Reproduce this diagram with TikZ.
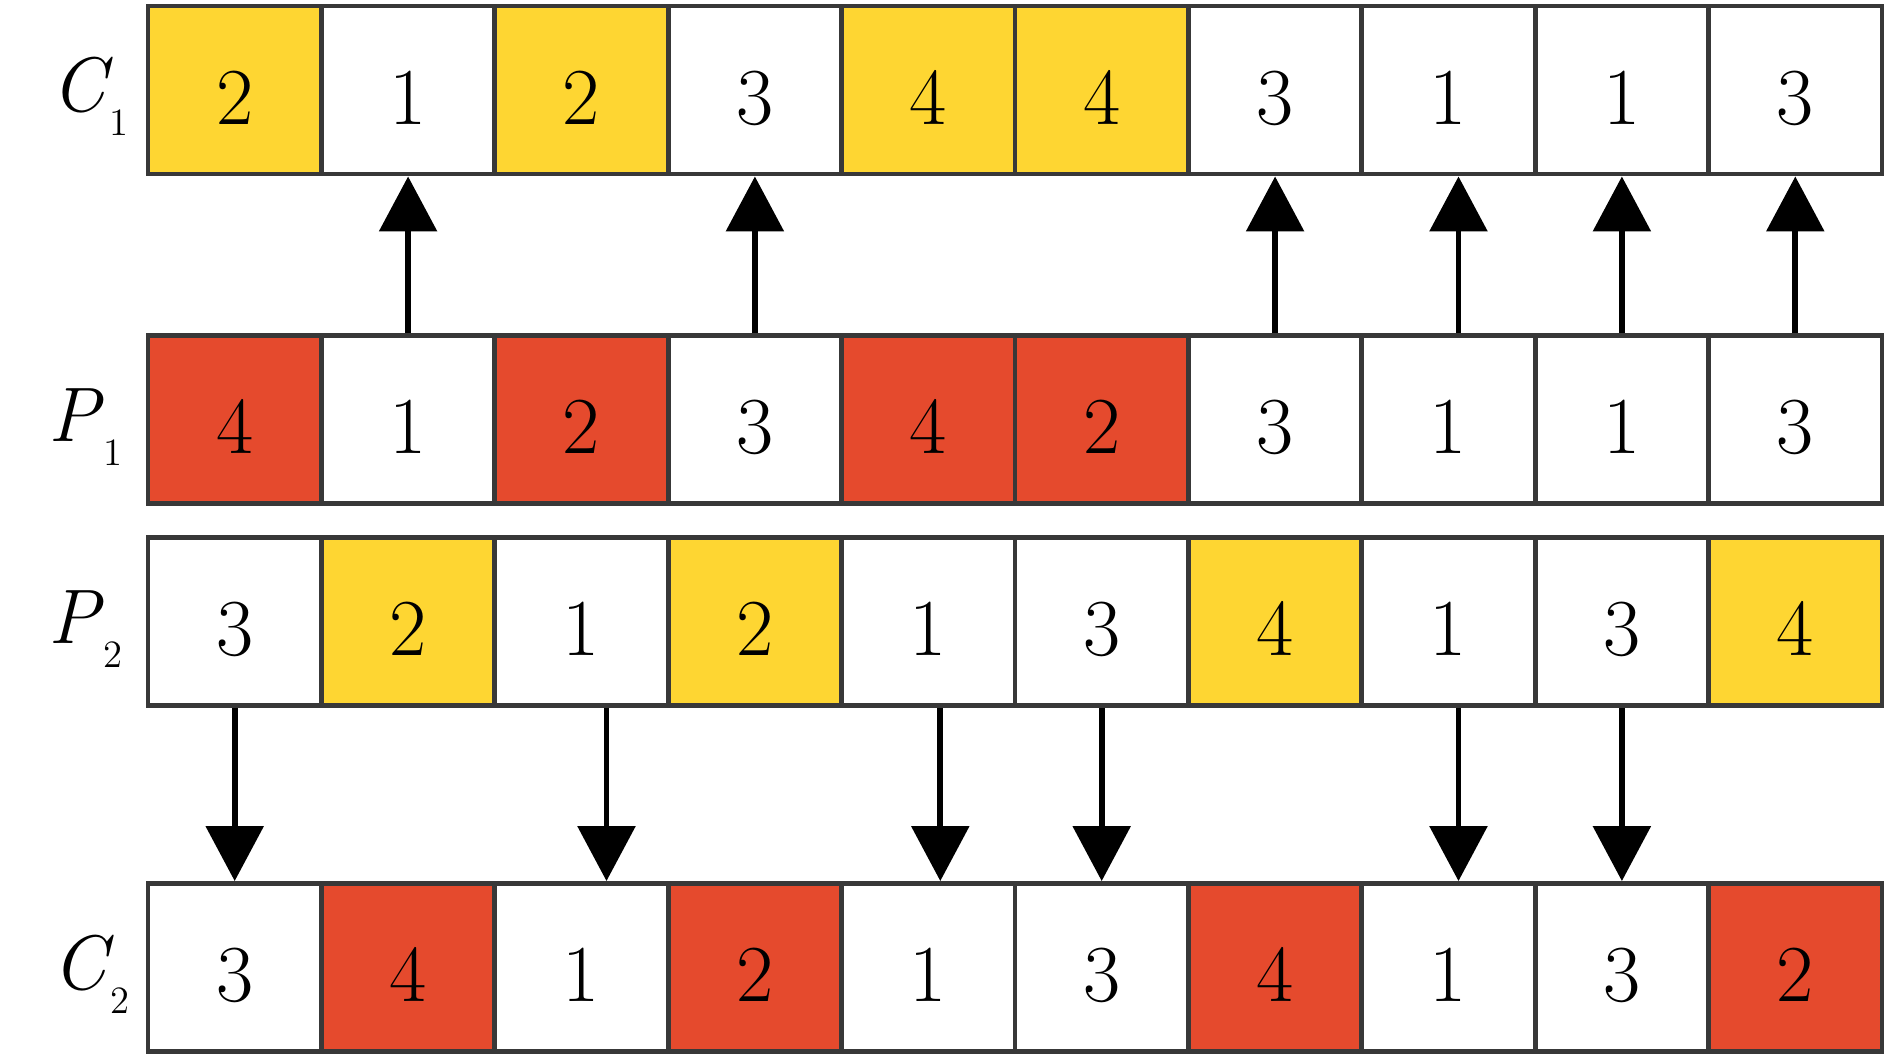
\documentclass[tikz,border=0pt]{standalone}
\usepackage{fontspec}
\usetikzlibrary{arrows.meta}
\definecolor{cyel}{RGB}{254,214,50}
\definecolor{cred}{RGB}{229,74,45}
\tikzset{
  cell/.style = {rectangle, minimum width=1.734cm, minimum height=1.68cm, inner sep=0pt,
    line width=1.4pt, draw=black!78, fill=#1, font=\fontsize{23}{27}\selectfont,
    text height=0.68cm, text depth=0cm},
  row_lab/.style = {anchor=base west, inner sep=0pt, font=\fontsize{22}{26}\selectfont\itshape},
  cp_arr/.style = {line width=1.7pt, -{Triangle[length=0.55cm,width=0.57cm]}}
}
\newcommand{\rowsub}[1]{\kern1pt\raisebox{-0.24cm}{\upshape\fontsize{11}{13}\selectfont #1}}

\begin{document}
\begin{tikzpicture}
\useasboundingbox (0,0) rectangle (18.9,10.58);
% row labels
\node [row_lab] (lc1) at (0.51,9.47) {C\rowsub{1}};
\node [row_lab] (lp1) at (0.48,6.17) {P\rowsub{1}};
\node [row_lab] (lp2) at (0.48,4.15) {P\rowsub{2}};
\node [row_lab] (lc2) at (0.52,0.69) {C\rowsub{2}};
% child 1
\foreach \v/\f [count=\i from 0] in {2/cyel,1/white,2/cyel,3/white,4/cyel,4/cyel,3/white,1/white,1/white,3/white}
  \node [cell=\f] (c1-\i) at ({1.48+1.734*(\i+0.5)},9.68) {\v};
% parent 1
\foreach \v/\f [count=\i from 0] in {4/cred,1/white,2/cred,3/white,4/cred,2/cred,3/white,1/white,1/white,3/white}
  \node [cell=\f] (p1-\i) at ({1.48+1.734*(\i+0.5)},6.385) {\v};
% parent 2
\foreach \v/\f [count=\i from 0] in {3/white,2/cyel,1/white,2/cyel,1/white,3/white,4/cyel,1/white,3/white,4/cyel}
  \node [cell=\f] (p2-\i) at ({1.48+1.734*(\i+0.5)},4.365) {\v};
% child 2
\foreach \v/\f [count=\i from 0] in {3/white,4/cred,1/white,2/cred,1/white,3/white,4/cred,1/white,3/white,2/cred}
  \node [cell=\f] (c2-\i) at ({1.48+1.734*(\i+0.5)},0.905) {\v};
% copied genes
\foreach \i/\dx in {1/0,3/0,6/0,7/0.1,8/0,9/0}
  \draw [cp_arr] ([xshift=\dx cm]p1-\i.north) -- ([xshift=\dx cm]c1-\i.south);
\foreach \i/\dx in {0/0,2/0.25,4/0.12,5/0,7/0.1,8/0}
  \draw [cp_arr] ([xshift=\dx cm]p2-\i.south) -- ([xshift=\dx cm]c2-\i.north);
\end{tikzpicture}
\end{document}
